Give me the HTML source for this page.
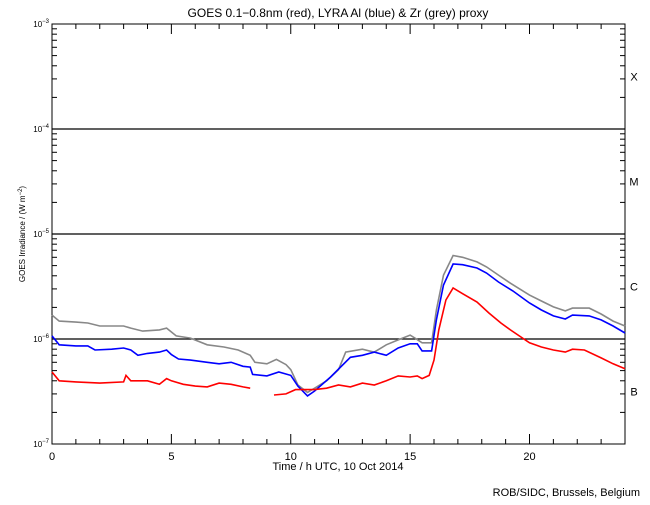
<!DOCTYPE html>
<html><head><meta charset="utf-8"><style>
body{margin:0;background:#fff;}
svg text{font-family:"Liberation Sans",sans-serif;fill:#000;}
</style></head><body>
<svg id="chart" width="650" height="500" xmlns="http://www.w3.org/2000/svg">
<rect width="650" height="500" fill="#fff"/>
<text x="338" y="17" font-size="12" text-anchor="middle">GOES 0.1−0.8nm (red), LYRA Al (blue) &amp; Zr (grey) proxy</text>
<text x="338" y="470" font-size="11" text-anchor="middle">Time / h UTC, 10 Oct 2014</text>
<text x="640" y="496" font-size="11" text-anchor="end">ROB/SIDC, Brussels, Belgium</text>
<text transform="translate(25,234) rotate(-90)" font-size="8" text-anchor="middle">GOES Irradiance / (W m<tspan dy="-3" font-size="6">−2</tspan><tspan dy="3">)</tspan></text>
<g id="axes"></g>
<g id="series"></g>
</svg>
<script>
const xTicks=[0,5,10,15,20];
const yDecades=[-7,-6,-5,-4,-3];
const classLabels=["B","C","M","X"];
const redT=[0,0.3,1,2,3,3.1,3.3,4,4.5,4.8,5,5.5,6,6.5,7,7.5,8,8.3,null,9.3,9.8,10.2,11,11.5,12,12.5,13,13.5,14,14.5,15,15.3,15.5,15.8,16.0,16.2,16.5,16.8,17.2,17.8,18.3,18.8,19.2,20,20.5,21,21.5,21.8,22.3,23,23.5,24];
const redV=[4.85e-7,4.0e-7,3.9e-7,3.8e-7,3.9e-7,4.5e-7,4.0e-7,4.0e-7,3.7e-7,4.2e-7,4.0e-7,3.7e-7,3.56e-7,3.5e-7,3.8e-7,3.7e-7,3.5e-7,3.4e-7,null,2.93e-7,3.0e-7,3.3e-7,3.3e-7,3.4e-7,3.65e-7,3.5e-7,3.8e-7,3.65e-7,4.0e-7,4.45e-7,4.35e-7,4.45e-7,4.2e-7,4.5e-7,6.3e-7,1.22e-6,2.35e-6,3.06e-6,2.7e-6,2.25e-6,1.77e-6,1.42e-6,1.22e-6,9.2e-7,8.4e-7,7.85e-7,7.5e-7,8.0e-7,7.85e-7,6.6e-7,5.8e-7,5.2e-7];
const blueT=[0,0.3,1,1.5,1.8,2.5,3,3.3,3.6,4,4.5,4.8,5.0,5.3,5.8,6.5,7,7.5,8,8.3,8.4,9,9.5,10,10.3,10.7,11,11.67,12.5,13,13.5,14,14.5,15,15.3,15.5,15.9,16.1,16.4,16.8,17.2,17.8,18.2,18.7,19.3,20,20.5,21,21.5,21.8,22.5,23,23.5,24];
const blueV=[1.07e-6,8.8e-7,8.6e-7,8.6e-7,7.85e-7,8.0e-7,8.2e-7,7.85e-7,7.0e-7,7.3e-7,7.5e-7,7.85e-7,7.1e-7,6.45e-7,6.3e-7,6.0e-7,5.8e-7,6.0e-7,5.5e-7,5.4e-7,4.6e-7,4.45e-7,4.85e-7,4.5e-7,3.56e-7,2.87e-7,3.2e-7,4.35e-7,6.7e-7,7.0e-7,7.5e-7,7.0e-7,8.2e-7,9.0e-7,9.0e-7,7.7e-7,7.7e-7,1.52e-6,3.27e-6,5.18e-6,5.1e-6,4.74e-6,4.25e-6,3.49e-6,2.87e-6,2.2e-6,1.89e-6,1.66e-6,1.55e-6,1.69e-6,1.66e-6,1.52e-6,1.33e-6,1.14e-6];
const greyT=[0,0.3,1,1.5,2,3,3.3,3.8,4.5,4.8,5.2,5.8,6.5,7.2,7.8,8.3,8.5,9,9.4,9.8,10.0,10.3,10.7,11,11.5,12,12.3,13,13.5,14,14.5,15,15.2,15.5,15.9,16.1,16.4,16.8,17.2,17.8,18.2,18.7,19.2,20,20.5,21,21.5,21.8,22.5,23,23.5,24];
const greyV=[1.69e-6,1.48e-6,1.45e-6,1.42e-6,1.33e-6,1.33e-6,1.27e-6,1.19e-6,1.22e-6,1.27e-6,1.07e-6,1.02e-6,8.8e-7,8.4e-7,7.85e-7,7.0e-7,6.0e-7,5.8e-7,6.4e-7,5.7e-7,5.1e-7,3.65e-7,3.1e-7,3.4e-7,4.0e-7,5.1e-7,7.5e-7,8.0e-7,7.5e-7,8.8e-7,9.8e-7,1.09e-6,1.02e-6,9.2e-7,9.2e-7,1.89e-6,4.06e-6,6.24e-6,6.0e-6,5.42e-6,4.86e-6,4.06e-6,3.4e-6,2.62e-6,2.3e-6,2.02e-6,1.85e-6,1.97e-6,1.97e-6,1.73e-6,1.48e-6,1.33e-6];

const L=52,R=625,T=24,B=444;
const xs=t=>L+(t/24)*(R-L);
const ys=v=>B-(Math.log10(v)+7)/4*(B-T);
const NS="http://www.w3.org/2000/svg";
function mk(tag,attrs,parent){const e=document.createElementNS(NS,tag);for(const k in attrs)e.setAttribute(k,attrs[k]);parent.appendChild(e);return e;}
const ax=document.getElementById('axes');
const frame=mk('rect',{x:L,y:T,width:R-L,height:B-T,fill:'none',stroke:'#000','stroke-width':1},ax);


for(let h=0;h<=24;h++){
  const x=xs(h),len=(h%5===0)?10:5;
  mk('line',{x1:x,y1:B,x2:x,y2:B-len,stroke:'#000'},ax);
  mk('line',{x1:x,y1:T,x2:x,y2:T+len,stroke:'#000'},ax);
}
xTicks.forEach(t=>{
  const tx=mk('text',{x:xs(t),y:B+16,'font-size':11,'text-anchor':'middle'},ax);
  tx.textContent=t;
  
  
});
yDecades.forEach((d,i)=>{
  const y=ys(Math.pow(10,d));
  if(d>-7&&d<-3){
    const gl=mk('line',{x1:L,y1:y,x2:R,y2:y,stroke:'#000','stroke-width':1.3},ax);
    
    
  }
  const tx=mk('text',{x:L-3,y:y+3,'font-size':8,'text-anchor':'end'},ax);
  tx.innerHTML='10<tspan dy="-4" font-size="6">'+(d<0?'−'+(-d):d)+'</tspan>';
  
  
  if(d<-3){
    for(let m=2;m<=9;m++){
      const yy=ys(m*Math.pow(10,d));
      mk('line',{x1:L,y1:yy,x2:L+5,y2:yy,stroke:'#000'},ax);
      mk('line',{x1:R,y1:yy,x2:R-5,y2:yy,stroke:'#000'},ax);
    }
    const c=mk('text',{x:634,y:ys(Math.pow(10,d+0.5))+4,'font-size':11,'text-anchor':'middle'},ax);
    c.textContent=classLabels[i];
    
    
  }
  mk('line',{x1:L,y1:y,x2:L+10,y2:y,stroke:'#000'},ax);
  mk('line',{x1:R,y1:y,x2:R-10,y2:y,stroke:'#000'},ax);
});
const sg=document.getElementById('series');
function draw(T_,V_,col,name){
  let d='',pen=false;
  for(let i=0;i<T_.length;i++){
    if(T_[i]===null||V_[i]===null){pen=false;continue;}
    d+=(pen?'L':'M')+xs(T_[i]).toFixed(1)+' '+ys(V_[i]).toFixed(1)+' ';pen=true;
  }
  const p=mk('path',{d:d,fill:'none',stroke:col,'stroke-width':1.6},sg);
  
  
}
draw(greyT,greyV,'#888888','lyra-zr-grey-series');
draw(blueT,blueV,'#0000ff','lyra-al-blue-series');
draw(redT,redV,'#ff0000','goes-red-series');
</script>
</body></html>
